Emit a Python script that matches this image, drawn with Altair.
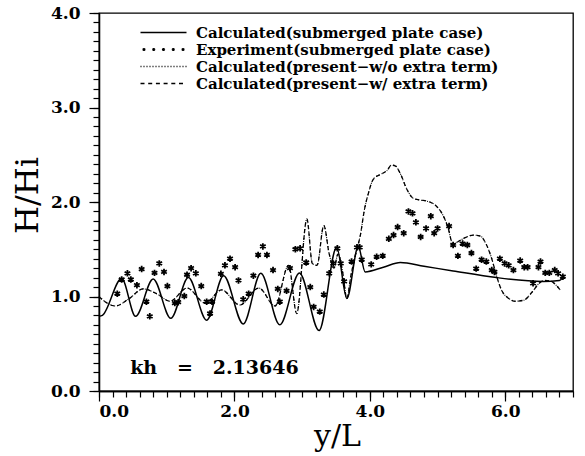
import altair as alt
import pandas as pd

# ---------------- data ----------------
solid_x = [0.00, 0.05, 0.335, 0.54, 0.80, 1.06, 1.32, 1.59, 1.84, 2.13, 2.39, 2.67, 2.96, 3.25,
           3.51, 3.66, 3.83, 3.93, 4.20, 4.45, 4.80, 5.23, 5.87, 6.56, 6.80, 6.86]
solid_y = [0.79, 0.80, 1.19, 0.79, 1.185, 0.77, 1.20, 0.75, 1.22, 0.71, 1.245, 0.70, 1.25, 0.64,
           1.52, 0.98, 1.53, 1.26, 1.31, 1.36, 1.32, 1.27, 1.20, 1.16, 1.17, 1.21]

present_x = [0.00, 0.08, 0.24, 0.45, 0.65, 0.85, 1.05, 1.30, 1.57, 1.81, 2.08, 2.36, 2.60, 2.80,
             2.92, 3.07, 3.15, 3.22, 3.32, 3.40, 3.47, 3.53, 3.60, 3.66, 3.72, 3.79, 3.86, 3.92,
             3.97, 4.05, 4.15, 4.25, 4.32, 4.38, 4.45, 4.55, 4.64, 4.75, 4.84, 4.99, 5.08, 5.15,
             5.23, 5.30, 5.40, 5.53, 5.63, 5.72, 5.80, 5.87, 5.95, 6.05, 6.15, 6.27, 6.40, 6.50,
             6.58, 6.68, 6.75, 6.81]
present_y = [1.00, 0.95, 0.90, 0.98, 1.08, 1.03, 0.95, 1.09, 0.93, 1.07, 0.91, 1.09, 0.90, 1.33,
             0.82, 1.82, 1.35, 1.33, 1.75, 1.45, 1.30, 1.45, 1.25, 0.98, 1.22, 1.45, 1.65, 1.92,
             2.07, 2.24, 2.29, 2.33, 2.39, 2.38, 2.30, 2.13, 2.04, 2.02, 2.01, 1.95, 1.86, 1.74,
             1.55, 1.58, 1.62, 1.65, 1.64, 1.55, 1.40, 1.22, 1.06, 0.98, 0.95, 0.96, 1.05, 1.14,
             1.17, 1.16, 1.12, 1.07]

exp_x = [0.27, 0.335, 0.42, 0.47, 0.56, 0.63, 0.70, 0.75, 0.82, 0.89, 0.96, 1.01, 1.12, 1.17,
         1.26, 1.30, 1.36, 1.43, 1.51, 1.59, 1.64, 1.67, 1.80, 1.86, 1.935, 2.01, 2.06, 2.13,
         2.21, 2.28, 2.35, 2.42, 2.48, 2.57, 2.64, 2.67, 2.77, 2.82, 2.90, 2.97, 3.06, 3.12,
         3.17, 3.26, 3.32, 3.40, 3.46, 3.52, 3.57, 3.62, 3.73, 3.81, 3.85, 3.88, 4.02, 4.10,
         4.19, 4.28, 4.35, 4.41, 4.50, 4.57, 4.63, 4.68, 4.75, 4.83, 4.90, 4.95, 5.00, 5.17,
         5.23, 5.30, 5.37, 5.44, 5.50, 5.57, 5.65, 5.72, 5.80, 5.84, 5.92, 5.99, 6.05, 6.12,
         6.22, 6.28, 6.33, 6.41, 6.49, 6.52, 6.59, 6.65, 6.73, 6.78, 6.85]
exp_y = [1.03, 1.18, 1.245, 1.18, 1.12, 1.29, 0.945, 0.79, 1.25, 1.35, 1.26, 1.11, 0.93, 0.94,
         1.005, 1.23, 1.30, 1.245, 1.11, 0.945, 0.82, 0.945, 1.24, 1.33, 1.40, 1.31, 1.17, 0.97,
         1.03, 1.22, 1.44, 1.53, 1.44, 1.28, 1.08, 0.945, 1.06, 1.30, 1.50, 1.51, 1.36, 1.10,
         0.89, 0.84, 1.02, 1.245, 1.35, 1.51, 1.35, 1.16, 1.37, 1.52, 1.52, 1.39, 1.34, 1.42,
         1.43, 1.61, 1.65, 1.735, 1.67, 1.90, 1.88, 1.785, 1.63, 1.72, 1.85, 1.67, 1.72, 1.745,
         1.545, 1.43, 1.56, 1.545, 1.46, 1.295, 1.39, 1.37, 1.28, 1.26, 1.40, 1.35, 1.33, 1.28,
         1.38, 1.31, 1.31, 1.14, 1.31, 1.37, 1.25, 1.25, 1.28, 1.245, 1.21]

series_names = [
    "Calculated(submerged plate case)",
    "Experiment(submerged plate case)",
    "Calculated(present\u2212w/o extra term)",
    "Calculated(present\u2212w/ extra term)",
]

x_major = [0, 2, 4, 6]
y_major = [0, 1, 2, 3, 4]
x_minor = [round(0.2 * i, 1) for i in range(36)]
y_minor = [round(0.1 * i, 1) for i in range(41)]

note_x = [0.46]
note_y = [0.243]
note_text = ["kh\u00a0\u00a0\u00a0=\u00a0\u00a0\u00a02.13646"]

# ---------------- styles ----------------
SERIF = "DejaVu Serif"
star_path = "M0,-1L0,1M-0.87,-0.5L0.87,0.5M-0.87,0.5L0.87,-0.5"

PX = 0.2   # legend symbol units per pixel (symbolSize 100 -> 5 px per unit)
HALF = 23  # legend symbol half width in pixels


def asterisk(cx, r):
    return (f"M{cx:.3f},{-r:.3f}L{cx:.3f},{r:.3f}"
            f"M{cx - 0.87*r:.3f},{-0.5*r:.3f}L{cx + 0.87*r:.3f},{0.5*r:.3f}"
            f"M{cx - 0.87*r:.3f},{0.5*r:.3f}L{cx + 0.87*r:.3f},{-0.5*r:.3f}")


def dashes(on, period):
    out = []
    p = -HALF
    while p < HALF:
        out.append(f"M{p*PX:.3f},0L{min(p + on, HALF)*PX:.3f},0")
        p += period
    return "".join(out)


leg_solid = f"M{-HALF*PX},0L{HALF*PX},0"
leg_stars = "".join(asterisk(c * HALF * PX, 1.6 * PX) for c in (-0.85, -0.425, 0.0, 0.425, 0.85))
leg_dotted = dashes(1.0, 3.0)
leg_dashed = dashes(4.0, 7.7)

df_solid = pd.DataFrame({"x": solid_x, "y": solid_y})
df_pres = pd.DataFrame({"x": present_x, "y": present_y})
df_exp = pd.DataFrame({"x": exp_x, "y": exp_y, "series": series_names[1]})
df_note = pd.DataFrame({"x": note_x, "y": note_y, "t": note_text})

xs = alt.Scale(domain=[0, 7], nice=False, zero=False)
ys = alt.Scale(domain=[0, 4], nice=False, zero=False)

x_minor_axis = alt.Axis(values=x_minor, tickSize=6, labels=False, title=None, grid=False,
                        orient="bottom")
y_minor_axis = alt.Axis(values=y_minor, tickSize=6, labels=False, title=None, grid=False,
                        orient="left")
x_major_axis = alt.Axis(values=x_major, tickSize=10, format=".1f", grid=False, orient="bottom",
                        title="y/L", labelFont=SERIF, labelFontSize=17, labelFontWeight="bold",
                        labelPadding=2, titleFont=SERIF, titleFontSize=30,
                        titleFontWeight="normal", titleX=238, titleY=45,
                        titleBaseline="middle", titleAlign="center")
y_major_axis = alt.Axis(values=y_major, tickSize=10, format=".1f", grid=False, orient="left",
                        title="H/Hi", labelFont=SERIF, labelFontSize=17, labelFontWeight="bold",
                        labelPadding=9, titleFont=SERIF, titleFontSize=32,
                        titleFontWeight="normal", titleX=-72, titleY=182, titleAngle=270,
                        titleBaseline="middle", titleAlign="center")

solid = alt.Chart(df_solid).mark_line(color="black", strokeWidth=1.5,
                                      interpolate="monotone").encode(
    x=alt.X("x:Q", scale=xs, axis=x_minor_axis),
    y=alt.Y("y:Q", scale=ys, axis=y_minor_axis),
)
dashed = alt.Chart(df_pres).mark_line(color="black", strokeWidth=1.3, strokeDash=[4, 3],
                                      interpolate="monotone").encode(
    x=alt.X("x:Q", scale=xs, axis=None),
    y=alt.Y("y:Q", scale=ys, axis=None),
)
dotted = alt.Chart(df_pres).mark_line(color="black", strokeWidth=1.1, strokeDash=[1, 2],
                                      interpolate="monotone").encode(
    x=alt.X("x:Q", scale=xs, axis=None),
    y=alt.Y("y:Q", scale=ys, axis=None),
)
stars = alt.Chart(df_exp).mark_point(shape=star_path, size=42, color="black", strokeWidth=1.8,
                                     filled=False, opacity=1).encode(
    x=alt.X("x:Q", scale=xs, axis=x_major_axis),
    y=alt.Y("y:Q", scale=ys, axis=y_major_axis),
)
legend_layer = alt.Chart(df_exp).mark_point(opacity=0, filled=False, color="black").encode(
    x=alt.X("x:Q", scale=xs, axis=None),
    y=alt.Y("y:Q", scale=ys, axis=None),
    shape=alt.Shape("series:N",
                    scale=alt.Scale(domain=series_names,
                                    range=[leg_solid, leg_stars, leg_dotted, leg_dashed]),
                    legend=alt.Legend(title=None, orient="none", legendX=57, legendY=12,
                                      symbolSize=100, symbolStrokeWidth=1.3, symbolOpacity=1,
                                      symbolStrokeColor="black", labelFont=SERIF,
                                      labelFontSize=15, labelFontWeight="bold",
                                      labelColor="black", labelLimit=800,
                                      rowPadding=1, padding=0, labelOffset=25)),
)
note = alt.Chart(df_note).mark_text(align="left", baseline="middle", font=SERIF, fontSize=19,
                                    fontWeight="bold", color="black").encode(
    x=alt.X("x:Q", scale=xs, axis=None),
    y=alt.Y("y:Q", scale=ys, axis=None),
    text="t:N",
)

chart = alt.layer(solid, dashed, dotted, stars, legend_layer, note).resolve_axis(
    x="independent", y="independent"
).properties(
    width=474, height=378,
    autosize=alt.AutoSizeParams(type="none"),
    padding={"left": 99, "top": 13, "right": 12, "bottom": 65},
    background="white",
).configure_view(stroke="black", strokeWidth=1.3).configure_axis(
    domainColor="black", domainWidth=1.3, tickColor="black", tickWidth=1.2,
    labelColor="black", titleColor="black",
)

chart.save("out.html", embed_options={"renderer": "svg", "actions": False})
